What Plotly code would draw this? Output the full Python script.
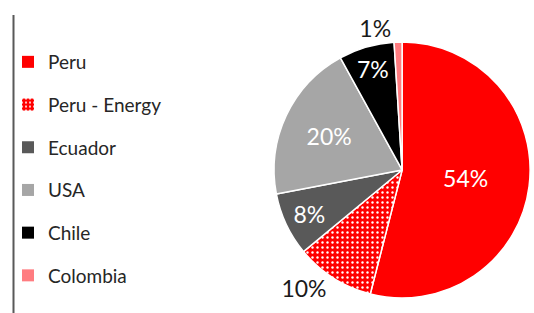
import plotly.graph_objects as go

labels = ["Peru", "Peru - Energy", "Ecuador", "USA", "Chile", "Colombia"]
values = [54, 10, 8, 20, 7, 1]
colors = ["#FF0000", "#FF0000", "#595959", "#A6A6A6", "#000000", "#FF7C80"]
text_positions = ["inside", "outside", "inside", "inside", "inside", "outside"]
patterns = ["", ".", "", "", "", ""]

FONT = "Lato"

fig = go.Figure()

fig.add_trace(go.Pie(
    labels=labels,
    values=values,
    sort=False,
    direction="clockwise",
    rotation=0,
    marker=dict(
        colors=colors,
        line=dict(color="white", width=1.5),
        pattern=dict(shape=patterns, fgcolor="white", bgcolor=colors,
                     size=5, solidity=0.18, fillmode="replace"),
    ),
    texttemplate="%{percent:.0%}",
    textposition=text_positions,
    insidetextorientation="horizontal",
    insidetextfont=dict(color="white", size=23, family=FONT),
    outsidetextfont=dict(color="#1a1a1a", size=23, family=FONT),
    domain=dict(x=[0.513, 0.993], y=[0.048, 0.866]),
    showlegend=False,
    hoverinfo="label+percent",
))

# legend entries built from the same lists
for lab, col, pat in zip(labels, colors, patterns):
    fig.add_trace(go.Bar(
        x=[None], y=[None], name=lab, legendgroup=lab,
        marker=dict(color=col, line=dict(width=0),
                    pattern=dict(shape=pat, fgcolor="white", bgcolor=col,
                                 size=5, solidity=0.2, fillmode="replace")),
    ))

fig.update_layout(
    width=534, height=313,
    margin=dict(l=0, r=0, t=0, b=0),
    paper_bgcolor="white", plot_bgcolor="white",
    font=dict(family=FONT, size=19, color="#262626"),
    xaxis=dict(visible=False, domain=[0, 0.01]),
    yaxis=dict(visible=False, domain=[0, 0.01]),
    uniformtext=dict(minsize=23, mode="show"),
    legend=dict(
        x=0.015, y=1 - 43 / 313, xanchor="left", yanchor="top",
        tracegroupgap=15, font=dict(family=FONT, size=19, color="#262626"),
        bgcolor="rgba(0,0,0,0)", itemclick=False, itemdoubleclick=False,
    ),
    shapes=[dict(type="line", xref="paper", yref="paper",
                 x0=13.5 / 534, x1=13.5 / 534, y0=0, y1=1 - 15 / 313,
                 line=dict(color="#595959", width=2))],
)

fig.write_html("out.html", config={"displayModeBar": False},
               post_script="document.body.style.margin='0';")
